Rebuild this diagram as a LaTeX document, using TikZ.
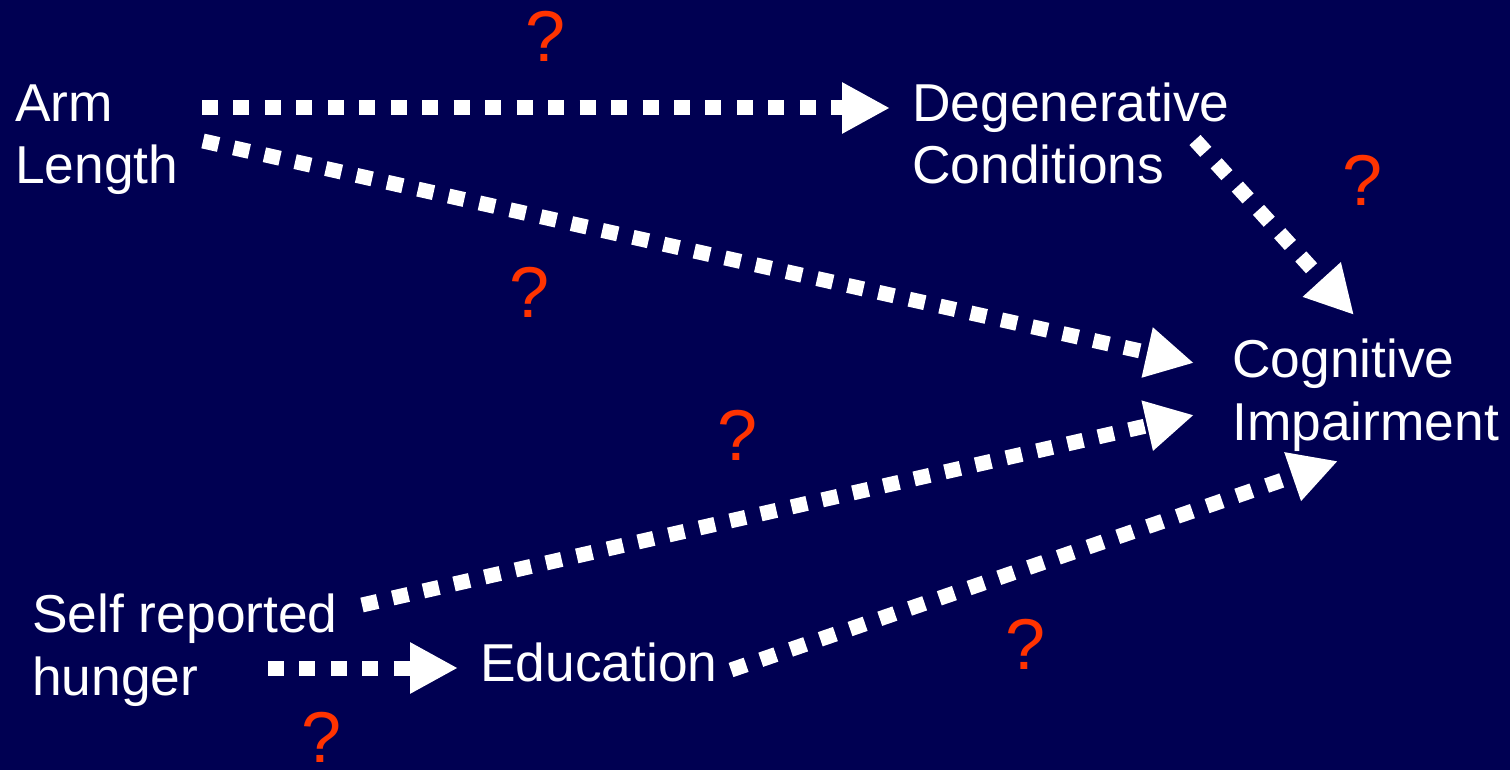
\documentclass[tikz,border=0pt]{standalone}
\usepackage{fontspec}
\setmainfont{Liberation Sans}
\usetikzlibrary{arrows.meta}
\definecolor{bg}{RGB}{0,0,82}
\definecolor{qred}{RGB}{255,51,0}
\tikzset{
  lbl/.style={anchor=base west, inner sep=0pt, text=white, align=left,
    font=\fontsize{40pt}{47pt}\selectfont},
  qmark/.style={inner sep=0pt, text=qred, font=\fontsize{54pt}{60pt}\selectfont},
  conn/.style={draw=white, line width=11.25pt, dash pattern=on 12pt off 11.6pt,
    -{Triangle[length=36pt,width=36pt,fill=white]}},
}
\begin{document}
\begin{tikzpicture}[x=0.75pt,y=-0.75pt]
\fill[bg] (0,0) rectangle (1510,770);
\useasboundingbox (0,0) rectangle (1510,770);
% multi-line nodes: base anchor = baseline of last line
\node[lbl] (arm) at (15,184) {Arm\\Length};
\node[lbl] (deg) at (912,184) {Degenerative\\Conditions};
\node[lbl] (cog) at (1232,440) {Cognitive\\Impairment};
\node[lbl] (hun) at (32,695) {Self reported\\hunger};
\node[lbl] (edu) at (480,681) {Education};
\draw[conn] ([shift={(187,-76)}]arm.base west) -- ([shift={(-22,-76)}]deg.base west);
\draw[conn] ([shift={(188,-43)}]arm.base west) -- ([shift={(-38,-77)}]cog.base west);
\draw[conn] ([shift={(283,-44)}]deg.base west) -- ([shift={(122,-125)}]cog.base west);
\draw[conn] ([shift={(330,-90)}]hun.base west) -- ([shift={(-38,-25)}]cog.base west);
\draw[conn] ([shift={(251,-11)}]edu.base west) -- ([shift={(106,21)}]cog.base west);
\draw[conn] ([shift={(236,-27)}]hun.base west) -- ([shift={(-22,-13)}]edu.base west);
\node[qmark] (q1) at (546,36) {?};
\node[qmark] (q2) at (1363,180) {?};
\node[qmark] (q3) at (530,292) {?};
\node[qmark] (q4) at (738,435) {?};
\node[qmark] (q5) at (1026,644) {?};
\node[qmark] (q6) at (322,737) {?};
\end{tikzpicture}
\end{document}
